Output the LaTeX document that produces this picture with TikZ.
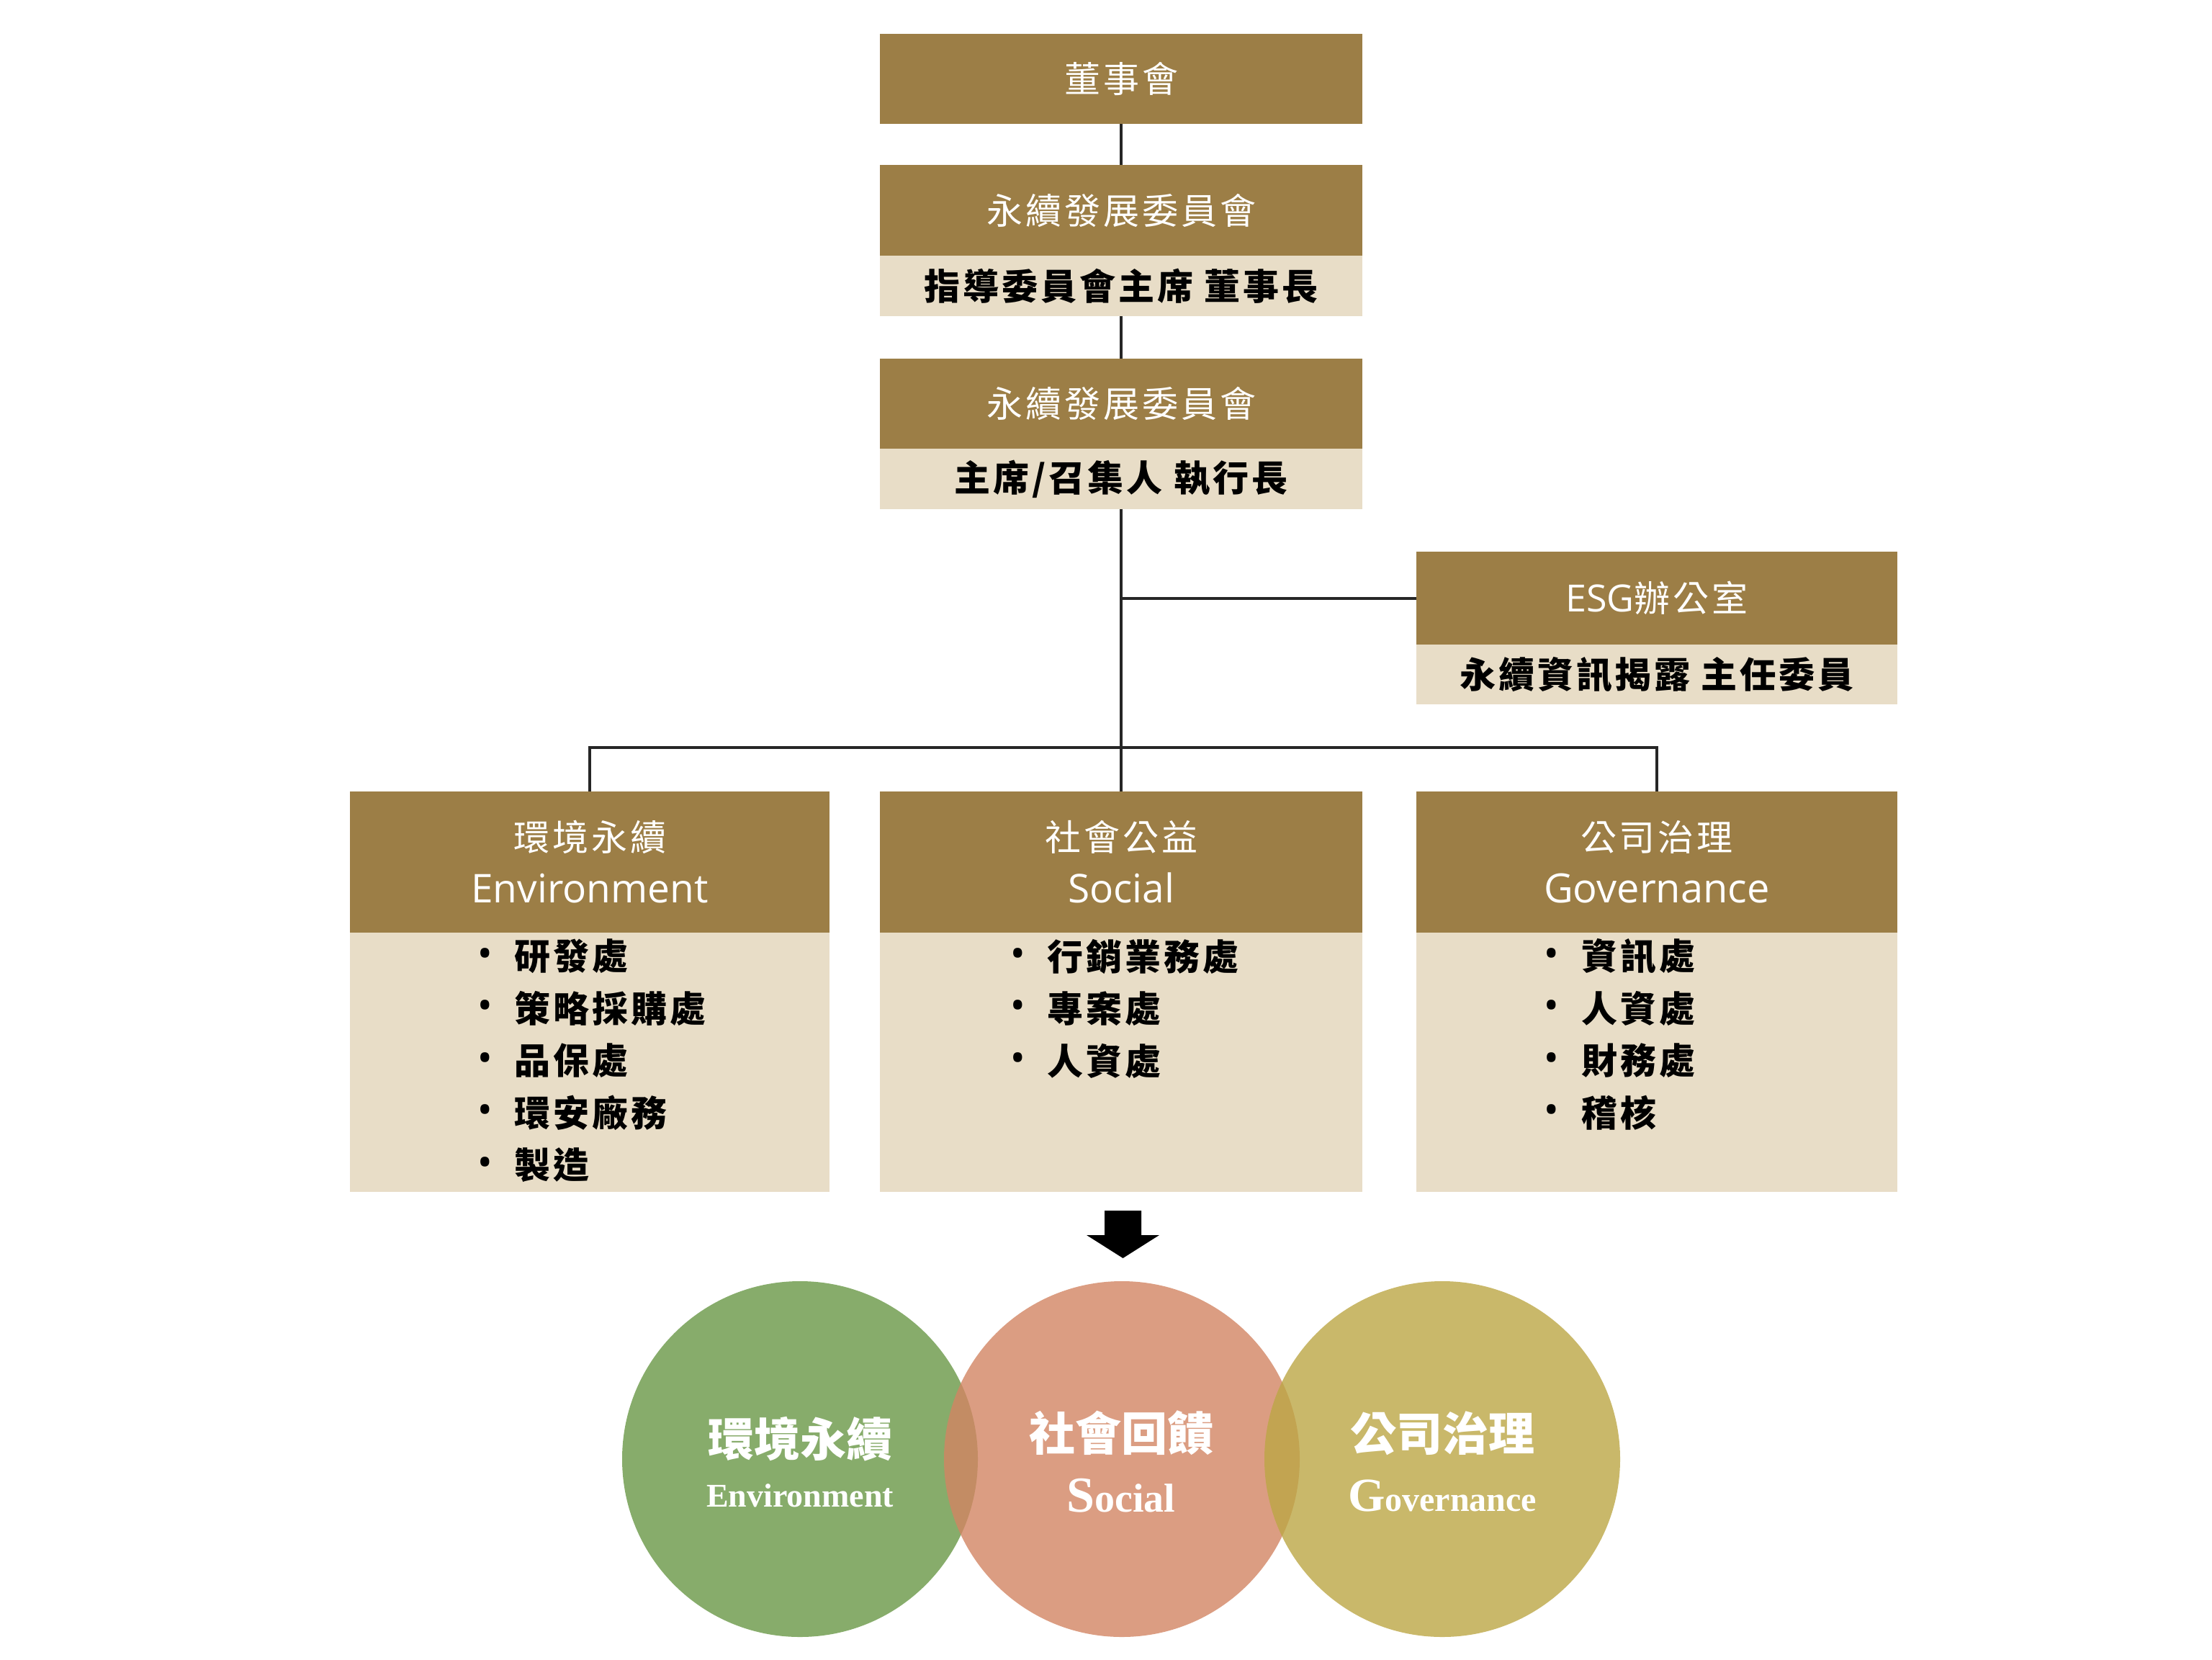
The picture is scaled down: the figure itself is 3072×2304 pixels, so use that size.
\documentclass[tikz,border=0pt]{standalone}
\usepackage{fontspec}
\newfontfamily\cjk{Noto Sans CJK TC}
\newfontfamily\cjks{Noto Sans CJK TC}[LetterSpace=8]
\newfontfamily\lat{Open Sans}
\newfontfamily\ser{Liberation Serif}
\definecolor{brn}{HTML}{9C7E46}
\definecolor{lgt}{HTML}{E8DDC7}
\definecolor{lnc}{HTML}{262626}
\definecolor{cgreen}{HTML}{87AC6B}
\definecolor{csalmon}{RGB}{210,133,99}
\definecolor{cyellow}{RGB}{188,166,69}
\tikzset{
  hd/.style={rectangle, fill=brn, inner sep=0pt, minimum width=670pt, text=white,
    align=center, font=\cjks\fontsize{50}{72}\selectfont},
  sub/.style={rectangle, fill=lgt, inner sep=0pt, minimum width=670pt, text=black,
    font=\cjks\bfseries\fontsize{50}{60}\selectfont},
  ln/.style={draw=lnc, line width=4pt},
  bul/.style={anchor=center, inner sep=0pt, font=\lat\bfseries\fontsize{44}{50}\selectfont},
  item/.style={anchor=west, inner sep=0pt, font=\cjks\bfseries\fontsize{50}{60}\selectfont},
  ring/.style={circle, inner sep=0pt, minimum size=494pt},
  ctx/.style={text=white, inner sep=0pt, font=\cjk\bfseries\fontsize{64}{70}\selectfont},
  etx/.style={text=white, inner sep=0pt, font=\ser\bfseries\fontsize{46}{50}\selectfont}
}
\begin{document}
\begin{tikzpicture}[x=1pt,y=-1pt]
\useasboundingbox (0,0) rectangle (3072,2304);
% top chain
\node[hd, minimum height=125pt] (board) at (1557,109.5) {董事會};
\node[hd, minimum height=126pt] (sdcA) at (1557,292) {永續發展委員會};
\node[sub, minimum height=84pt] (sdcAs) at (1557,397) {指導委員會主席 董事長};
\node[hd, minimum height=125pt] (sdcB) at (1557,560.5) {永續發展委員會};
\node[sub, minimum height=84pt] (sdcBs) at (1557,665) {主席/召集人 執行長};
% ESG office
\node[hd, minimum width=668pt, minimum height=129pt] (esg) at (2301,830.5) {{\lat\fontsize{52}{60}\selectfont ESG}辦公室};
\node[sub, minimum width=668pt, minimum height=83pt] (esgs) at (2301,936.5) {永續資訊揭露 主任委員};
% bottom boxes
\node[sub, minimum width=666pt, minimum height=360pt] (envb) at (819,1475) {};
\node[sub, minimum width=670pt, minimum height=360pt] (socb) at (1557,1475) {};
\node[sub, minimum width=668pt, minimum height=360pt] (govb) at (2301,1475) {};
\node[hd, minimum width=666pt, minimum height=196pt] (env) at (819,1197) {環境永續\\{\lat\fontsize{55}{72}\selectfont Environment}};
\node[hd, minimum width=670pt, minimum height=196pt] (soc) at (1557,1197) {社會公益\\{\lat\fontsize{55}{72}\selectfont Social}};
\node[hd, minimum width=668pt, minimum height=196pt] (gov) at (2301,1197) {公司治理\\{\lat\fontsize{56}{72}\selectfont Governance}};
% bullet items
\foreach \t [count=\i] in {研發處,策略採購處,品保處,環安廠務,製造}{
  \node[bul] (eb\i) at (674,{1328+72.5*(\i-1)}) {•};
  \node[item] (ei\i) at (714,{1328+72.5*(\i-1)}) {\t};
}
\foreach \t [count=\i] in {行銷業務處,專案處,人資處}{
  \node[bul] (sb\i) at (1414,{1328+72.5*(\i-1)}) {•};
  \node[item] (si\i) at (1454,{1328+72.5*(\i-1)}) {\t};
}
\foreach \t [count=\i] in {資訊處,人資處,財務處,稽核}{
  \node[bul] (gb\i) at (2155,{1328+72.5*(\i-1)}) {•};
  \node[item] (gi\i) at (2196,{1328+72.5*(\i-1)}) {\t};
}
% connectors
\coordinate (bus) at (1557,1038);
\draw[ln] (board.south) -- (sdcA.north);
\draw[ln] (sdcAs.south) -- (sdcB.north);
\draw[ln] (sdcBs.south) -- (soc.north);
\draw[ln] (sdcBs.south |- esg.west) -- (esg.west);
\draw[ln] (env.north) -- (env.north |- bus) -- (gov.north |- bus) -- (gov.north);
% block arrow
\fill[black] (1534,1681) -- (1585,1681) -- (1585,1715) -- (1610,1715) -- (1559.5,1747)
  -- (1509,1715) -- (1534,1715) -- cycle;
% circles
\node[ring, fill=cgreen] (cE) at (1111,2026) {};
\node[ring, fill=csalmon, fill opacity=0.8] (cS) at (1558,2026) {};
\node[ring, fill=cyellow, fill opacity=0.8] (cG) at (2003,2026) {};
\node[ctx] (tE) at (1111,1998) {環境永續};
\node[etx] (eE) at (1111,2077) {Environment};
\node[ctx] (tS) at (1557,1990) {社會回饋};
\node[etx, font=\ser\bfseries\fontsize{56}{60}\selectfont] (eS) at (1557,2077) {{\fontsize{70}{60}\selectfont S}ocial};
\node[etx, font=\ser\bfseries\fontsize{48}{60}\selectfont] (eG) at (2003,2077) {{\fontsize{66}{60}\selectfont G}overnance};
\node[ctx] (tG) at (2003,1990) {公司治理};
\end{tikzpicture}
\end{document}
